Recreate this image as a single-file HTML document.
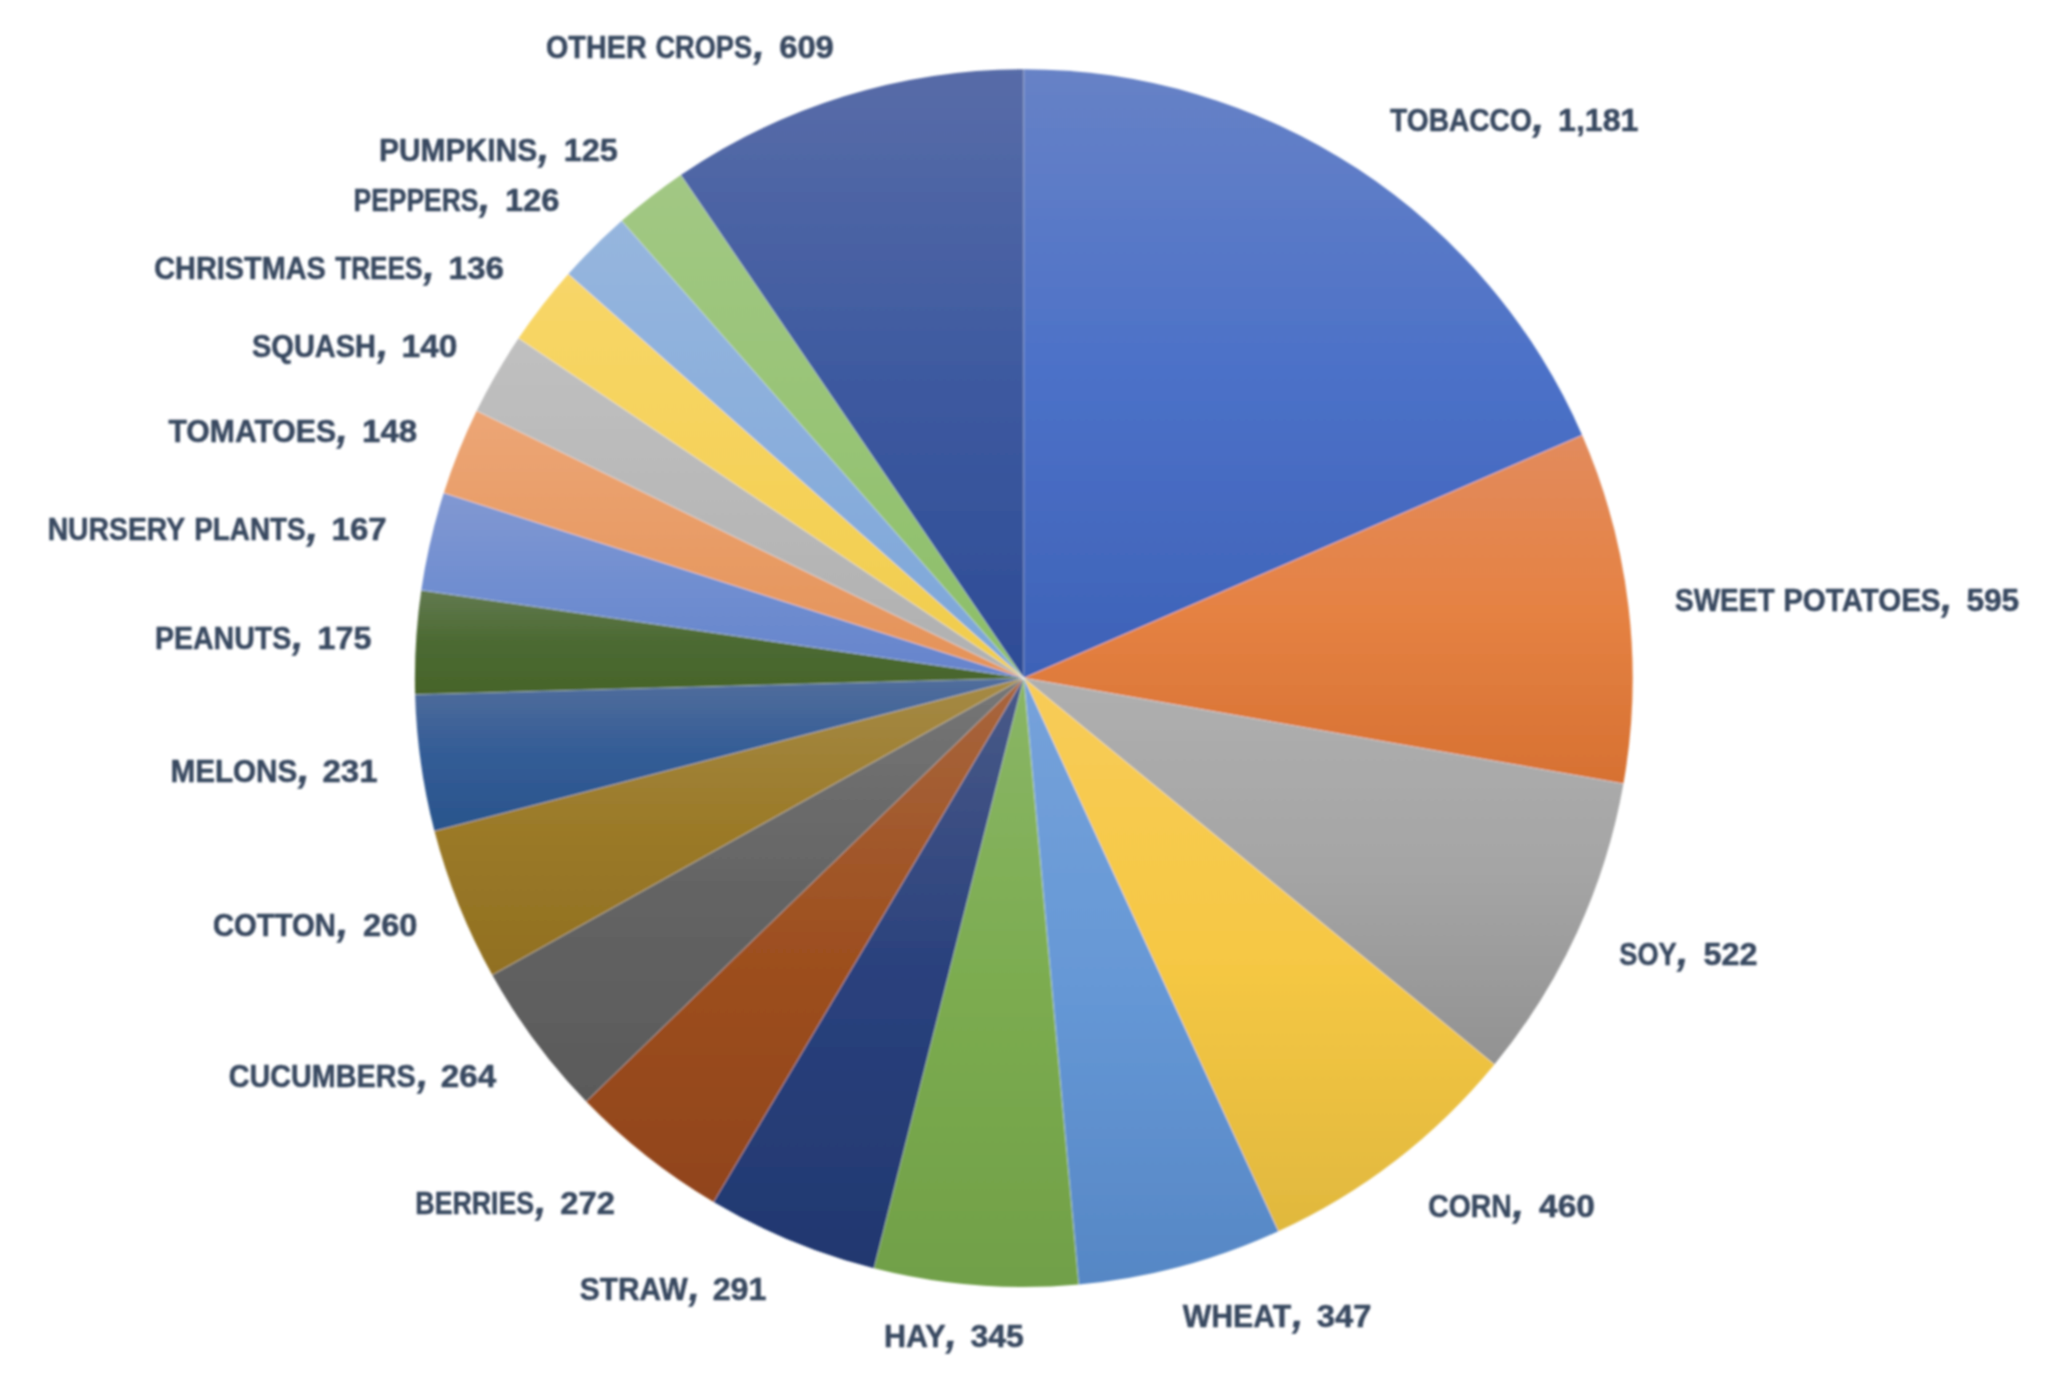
<!DOCTYPE html>
<html><head><meta charset="utf-8"><title>Crops</title>
<style>
html,body{margin:0;padding:0;background:#fff;}
svg{display:block;}
text{font-family:"Liberation Sans",sans-serif;font-weight:bold;font-size:31.8px;fill:#394860;stroke:#394860;stroke-width:0.5px;stroke-linejoin:round;}
text.c{font-style:italic;font-size:40px;}
</style></head><body>
<svg width="2058" height="1386" viewBox="0 0 2058 1386">
<defs>
<filter id="bl" x="0" y="0" width="2058" height="1386" filterUnits="userSpaceOnUse"><feGaussianBlur stdDeviation="1.0"/></filter>
<linearGradient id="g0" x1="0" y1="0" x2="0" y2="1"><stop offset="0" stop-color="#6782C6"/><stop offset="0.5" stop-color="#4C71C8"/><stop offset="1" stop-color="#3E62B7"/></linearGradient>
<linearGradient id="g1" x1="0" y1="0" x2="0" y2="1"><stop offset="0" stop-color="#E28B5D"/><stop offset="0.5" stop-color="#E58243"/><stop offset="1" stop-color="#D77132"/></linearGradient>
<linearGradient id="g2" x1="0" y1="0" x2="0" y2="1"><stop offset="0" stop-color="#AFAFAF"/><stop offset="0.5" stop-color="#A5A5A5"/><stop offset="1" stop-color="#929292"/></linearGradient>
<linearGradient id="g3" x1="0" y1="0" x2="0" y2="1"><stop offset="0" stop-color="#F8CC58"/><stop offset="0.5" stop-color="#F6C844"/><stop offset="1" stop-color="#E0B83E"/></linearGradient>
<linearGradient id="g4" x1="0" y1="0" x2="0" y2="1"><stop offset="0" stop-color="#76A2DA"/><stop offset="0.5" stop-color="#6698D6"/><stop offset="1" stop-color="#5687C5"/></linearGradient>
<linearGradient id="g5" x1="0" y1="0" x2="0" y2="1"><stop offset="0" stop-color="#8AB666"/><stop offset="0.5" stop-color="#7CAC50"/><stop offset="1" stop-color="#71A048"/></linearGradient>
<linearGradient id="g6" x1="0" y1="0" x2="0" y2="1"><stop offset="0" stop-color="#4A5A88"/><stop offset="0.5" stop-color="#2A417D"/><stop offset="1" stop-color="#223870"/></linearGradient>
<linearGradient id="g7" x1="0" y1="0" x2="0" y2="1"><stop offset="0" stop-color="#A8663E"/><stop offset="0.5" stop-color="#9E5020"/><stop offset="1" stop-color="#91441A"/></linearGradient>
<linearGradient id="g8" x1="0" y1="0" x2="0" y2="1"><stop offset="0" stop-color="#767676"/><stop offset="0.5" stop-color="#646464"/><stop offset="1" stop-color="#5A5A5A"/></linearGradient>
<linearGradient id="g9" x1="0" y1="0" x2="0" y2="1"><stop offset="0" stop-color="#A58A46"/><stop offset="0.5" stop-color="#9B7A28"/><stop offset="1" stop-color="#917022"/></linearGradient>
<linearGradient id="g10" x1="0" y1="0" x2="0" y2="1"><stop offset="0" stop-color="#526E9C"/><stop offset="0.5" stop-color="#335C96"/><stop offset="1" stop-color="#2A558C"/></linearGradient>
<linearGradient id="g11" x1="0" y1="0" x2="0" y2="1"><stop offset="0" stop-color="#627A50"/><stop offset="0.5" stop-color="#4C6A32"/><stop offset="1" stop-color="#46642A"/></linearGradient>
<linearGradient id="g12" x1="0" y1="0" x2="0" y2="1"><stop offset="0" stop-color="#8298D2"/><stop offset="0.5" stop-color="#708ED0"/><stop offset="1" stop-color="#6684CC"/></linearGradient>
<linearGradient id="g13" x1="0" y1="0" x2="0" y2="1"><stop offset="0" stop-color="#ECA676"/><stop offset="0.5" stop-color="#E89C66"/><stop offset="1" stop-color="#E49258"/></linearGradient>
<linearGradient id="g14" x1="0" y1="0" x2="0" y2="1"><stop offset="0" stop-color="#C0C0C0"/><stop offset="0.5" stop-color="#B8B8B8"/><stop offset="1" stop-color="#B0B0B0"/></linearGradient>
<linearGradient id="g15" x1="0" y1="0" x2="0" y2="1"><stop offset="0" stop-color="#F8D668"/><stop offset="0.5" stop-color="#F5D25A"/><stop offset="1" stop-color="#F0CC4C"/></linearGradient>
<linearGradient id="g16" x1="0" y1="0" x2="0" y2="1"><stop offset="0" stop-color="#96B6DE"/><stop offset="0.5" stop-color="#8AAEDC"/><stop offset="1" stop-color="#7CA6D8"/></linearGradient>
<linearGradient id="g17" x1="0" y1="0" x2="0" y2="1"><stop offset="0" stop-color="#A2C884"/><stop offset="0.5" stop-color="#98C476"/><stop offset="1" stop-color="#8CBE68"/></linearGradient>
<linearGradient id="g18" x1="0" y1="0" x2="0" y2="1"><stop offset="0" stop-color="#586CA8"/><stop offset="0.5" stop-color="#3E5AA0"/><stop offset="1" stop-color="#2E4C96"/></linearGradient>
</defs>
<rect width="2058" height="1386" fill="#fff"/>
<g filter="url(#bl)">
<g>
<path d="M1023.8 678.1L1023.80 69.20A608.9 608.9 0 0 1 1582.17 435.24Z" fill="url(#g0)"/>
<path d="M1023.8 678.1L1582.17 435.24A608.9 608.9 0 0 1 1623.46 783.77Z" fill="url(#g1)"/>
<path d="M1023.8 678.1L1623.46 783.77A608.9 608.9 0 0 1 1494.43 1064.45Z" fill="url(#g2)"/>
<path d="M1023.8 678.1L1494.43 1064.45A608.9 608.9 0 0 1 1278.40 1231.22Z" fill="url(#g3)"/>
<path d="M1023.8 678.1L1278.40 1231.22A608.9 608.9 0 0 1 1078.77 1284.51Z" fill="url(#g4)"/>
<path d="M1023.8 678.1L1078.77 1284.51A608.9 608.9 0 0 1 873.97 1268.28Z" fill="url(#g5)"/>
<path d="M1023.8 678.1L873.97 1268.28A608.9 608.9 0 0 1 713.58 1202.05Z" fill="url(#g6)"/>
<path d="M1023.8 678.1L713.58 1202.05A608.9 608.9 0 0 1 586.21 1101.51Z" fill="url(#g7)"/>
<path d="M1023.8 678.1L586.21 1101.51A608.9 608.9 0 0 1 492.24 975.09Z" fill="url(#g8)"/>
<path d="M1023.8 678.1L492.24 975.09A608.9 608.9 0 0 1 434.44 831.11Z" fill="url(#g9)"/>
<path d="M1023.8 678.1L434.44 831.11A608.9 608.9 0 0 1 415.12 694.55Z" fill="url(#g10)"/>
<path d="M1023.8 678.1L415.12 694.55A608.9 608.9 0 0 1 421.28 590.15Z" fill="url(#g11)"/>
<path d="M1023.8 678.1L421.28 590.15A608.9 608.9 0 0 1 443.75 492.90Z" fill="url(#g12)"/>
<path d="M1023.8 678.1L443.75 492.90A608.9 608.9 0 0 1 476.71 410.79Z" fill="url(#g13)"/>
<path d="M1023.8 678.1L476.71 410.79A608.9 608.9 0 0 1 518.54 338.29Z" fill="url(#g14)"/>
<path d="M1023.8 678.1L518.54 338.29A608.9 608.9 0 0 1 568.32 274.00Z" fill="url(#g15)"/>
<path d="M1023.8 678.1L568.32 274.00A608.9 608.9 0 0 1 621.72 220.84Z" fill="url(#g16)"/>
<path d="M1023.8 678.1L621.72 220.84A608.9 608.9 0 0 1 680.77 175.02Z" fill="url(#g17)"/>
<path d="M1023.8 678.1L680.77 175.02A608.9 608.9 0 0 1 1023.80 69.20Z" fill="url(#g18)"/>
</g>
<g stroke="#fff" stroke-opacity="0.32" stroke-width="1.0">
<line x1="1023.8" y1="678.1" x2="1023.80" y2="69.20"/>
<line x1="1023.8" y1="678.1" x2="1582.17" y2="435.24"/>
<line x1="1023.8" y1="678.1" x2="1623.46" y2="783.77"/>
<line x1="1023.8" y1="678.1" x2="1494.43" y2="1064.45"/>
<line x1="1023.8" y1="678.1" x2="1278.40" y2="1231.22"/>
<line x1="1023.8" y1="678.1" x2="1078.77" y2="1284.51"/>
<line x1="1023.8" y1="678.1" x2="873.97" y2="1268.28"/>
<line x1="1023.8" y1="678.1" x2="713.58" y2="1202.05"/>
<line x1="1023.8" y1="678.1" x2="586.21" y2="1101.51"/>
<line x1="1023.8" y1="678.1" x2="492.24" y2="975.09"/>
<line x1="1023.8" y1="678.1" x2="434.44" y2="831.11"/>
<line x1="1023.8" y1="678.1" x2="415.12" y2="694.55"/>
<line x1="1023.8" y1="678.1" x2="421.28" y2="590.15"/>
<line x1="1023.8" y1="678.1" x2="443.75" y2="492.90"/>
<line x1="1023.8" y1="678.1" x2="476.71" y2="410.79"/>
<line x1="1023.8" y1="678.1" x2="518.54" y2="338.29"/>
<line x1="1023.8" y1="678.1" x2="568.32" y2="274.00"/>
<line x1="1023.8" y1="678.1" x2="621.72" y2="220.84"/>
<line x1="1023.8" y1="678.1" x2="680.77" y2="175.02"/>
</g>
<g>
<text x="1390.05" y="130.90" textLength="141.81" lengthAdjust="spacingAndGlyphs">TOBACCO</text>
<text class="c" x="1532.50" y="130.90" textLength="11.67" lengthAdjust="spacingAndGlyphs">,</text>
<text x="1558.00" y="130.90" textLength="80.46" lengthAdjust="spacingAndGlyphs">1,181</text>
<text x="1675.10" y="610.70" textLength="99.36" lengthAdjust="spacingAndGlyphs">SWEET</text>
<text x="1783.20" y="610.70" textLength="157.32" lengthAdjust="spacingAndGlyphs">POTATOES</text>
<text class="c" x="1941.35" y="610.70" textLength="11.04" lengthAdjust="spacingAndGlyphs">,</text>
<text x="1966.40" y="610.70" textLength="52.83" lengthAdjust="spacingAndGlyphs">595</text>
<text x="1619.30" y="965.40" textLength="57.34" lengthAdjust="spacingAndGlyphs">SOY</text>
<text class="c" x="1677.05" y="965.40" textLength="11.32" lengthAdjust="spacingAndGlyphs">,</text>
<text x="1703.50" y="965.40" textLength="53.96" lengthAdjust="spacingAndGlyphs">522</text>
<text x="1428.20" y="1216.90" textLength="83.48" lengthAdjust="spacingAndGlyphs">CORN</text>
<text class="c" x="1512.50" y="1216.90" textLength="11.67" lengthAdjust="spacingAndGlyphs">,</text>
<text x="1539.00" y="1216.90" textLength="55.92" lengthAdjust="spacingAndGlyphs">460</text>
<text x="1182.70" y="1326.70" textLength="108.60" lengthAdjust="spacingAndGlyphs">WHEAT</text>
<text class="c" x="1292.15" y="1326.70" textLength="11.05" lengthAdjust="spacingAndGlyphs">,</text>
<text x="1316.85" y="1326.70" textLength="54.65" lengthAdjust="spacingAndGlyphs">347</text>
<text x="884.00" y="1347.00" textLength="61.56" lengthAdjust="spacingAndGlyphs">HAY</text>
<text class="c" x="945.85" y="1347.00" textLength="11.04" lengthAdjust="spacingAndGlyphs">,</text>
<text x="970.45" y="1347.00" textLength="53.52" lengthAdjust="spacingAndGlyphs">345</text>
<text x="579.75" y="1300.20" textLength="107.86" lengthAdjust="spacingAndGlyphs">STRAW</text>
<text class="c" x="688.65" y="1300.20" textLength="11.05" lengthAdjust="spacingAndGlyphs">,</text>
<text x="712.65" y="1300.20" textLength="53.80" lengthAdjust="spacingAndGlyphs">291</text>
<text x="415.35" y="1214.00" textLength="118.80" lengthAdjust="spacingAndGlyphs">BERRIES</text>
<text class="c" x="535.35" y="1214.00" textLength="11.04" lengthAdjust="spacingAndGlyphs">,</text>
<text x="560.35" y="1214.00" textLength="54.64" lengthAdjust="spacingAndGlyphs">272</text>
<text x="228.70" y="1087.10" textLength="186.97" lengthAdjust="spacingAndGlyphs">CUCUMBERS</text>
<text class="c" x="417.15" y="1087.10" textLength="11.05" lengthAdjust="spacingAndGlyphs">,</text>
<text x="440.85" y="1087.10" textLength="55.35" lengthAdjust="spacingAndGlyphs">264</text>
<text x="213.00" y="935.90" textLength="122.96" lengthAdjust="spacingAndGlyphs">COTTON</text>
<text class="c" x="336.95" y="935.90" textLength="11.28" lengthAdjust="spacingAndGlyphs">,</text>
<text x="363.05" y="935.90" textLength="54.46" lengthAdjust="spacingAndGlyphs">260</text>
<text x="170.50" y="782.10" textLength="126.81" lengthAdjust="spacingAndGlyphs">MELONS</text>
<text class="c" x="298.00" y="782.10" textLength="11.67" lengthAdjust="spacingAndGlyphs">,</text>
<text x="322.45" y="782.10" textLength="55.23" lengthAdjust="spacingAndGlyphs">231</text>
<text x="154.95" y="649.30" textLength="136.24" lengthAdjust="spacingAndGlyphs">PEANUTS</text>
<text class="c" x="292.15" y="649.30" textLength="11.05" lengthAdjust="spacingAndGlyphs">,</text>
<text x="317.50" y="649.30" textLength="53.91" lengthAdjust="spacingAndGlyphs">175</text>
<text x="47.65" y="539.60" textLength="137.47" lengthAdjust="spacingAndGlyphs">NURSERY</text>
<text x="194.30" y="539.60" textLength="111.28" lengthAdjust="spacingAndGlyphs">PLANTS</text>
<text class="c" x="306.50" y="539.60" textLength="11.67" lengthAdjust="spacingAndGlyphs">,</text>
<text x="331.55" y="539.60" textLength="55.06" lengthAdjust="spacingAndGlyphs">167</text>
<text x="168.45" y="442.20" textLength="167.61" lengthAdjust="spacingAndGlyphs">TOMATOES</text>
<text class="c" x="336.85" y="442.20" textLength="11.04" lengthAdjust="spacingAndGlyphs">,</text>
<text x="362.05" y="442.20" textLength="55.16" lengthAdjust="spacingAndGlyphs">148</text>
<text x="252.05" y="356.50" textLength="123.90" lengthAdjust="spacingAndGlyphs">SQUASH</text>
<text class="c" x="377.35" y="356.50" textLength="11.04" lengthAdjust="spacingAndGlyphs">,</text>
<text x="401.55" y="356.50" textLength="55.94" lengthAdjust="spacingAndGlyphs">140</text>
<text x="154.20" y="279.00" textLength="171.67" lengthAdjust="spacingAndGlyphs">CHRISTMAS</text>
<text x="335.20" y="279.00" textLength="87.23" lengthAdjust="spacingAndGlyphs">TREES</text>
<text class="c" x="423.45" y="279.00" textLength="11.28" lengthAdjust="spacingAndGlyphs">,</text>
<text x="448.45" y="279.00" textLength="55.56" lengthAdjust="spacingAndGlyphs">136</text>
<text x="353.55" y="210.90" textLength="124.89" lengthAdjust="spacingAndGlyphs">PEPPERS</text>
<text class="c" x="478.95" y="210.90" textLength="11.28" lengthAdjust="spacingAndGlyphs">,</text>
<text x="504.90" y="210.90" textLength="54.51" lengthAdjust="spacingAndGlyphs">126</text>
<text x="378.90" y="160.70" textLength="158.29" lengthAdjust="spacingAndGlyphs">PUMPKINS</text>
<text class="c" x="538.05" y="160.70" textLength="11.32" lengthAdjust="spacingAndGlyphs">,</text>
<text x="563.70" y="160.70" textLength="54.14" lengthAdjust="spacingAndGlyphs">125</text>
<text x="546.00" y="57.60" textLength="100.67" lengthAdjust="spacingAndGlyphs">OTHER</text>
<text x="655.45" y="57.60" textLength="96.65" lengthAdjust="spacingAndGlyphs">CROPS</text>
<text class="c" x="753.45" y="57.60" textLength="11.28" lengthAdjust="spacingAndGlyphs">,</text>
<text x="779.15" y="57.60" textLength="54.73" lengthAdjust="spacingAndGlyphs">609</text>
</g>
</g>
</svg>
</body></html>
